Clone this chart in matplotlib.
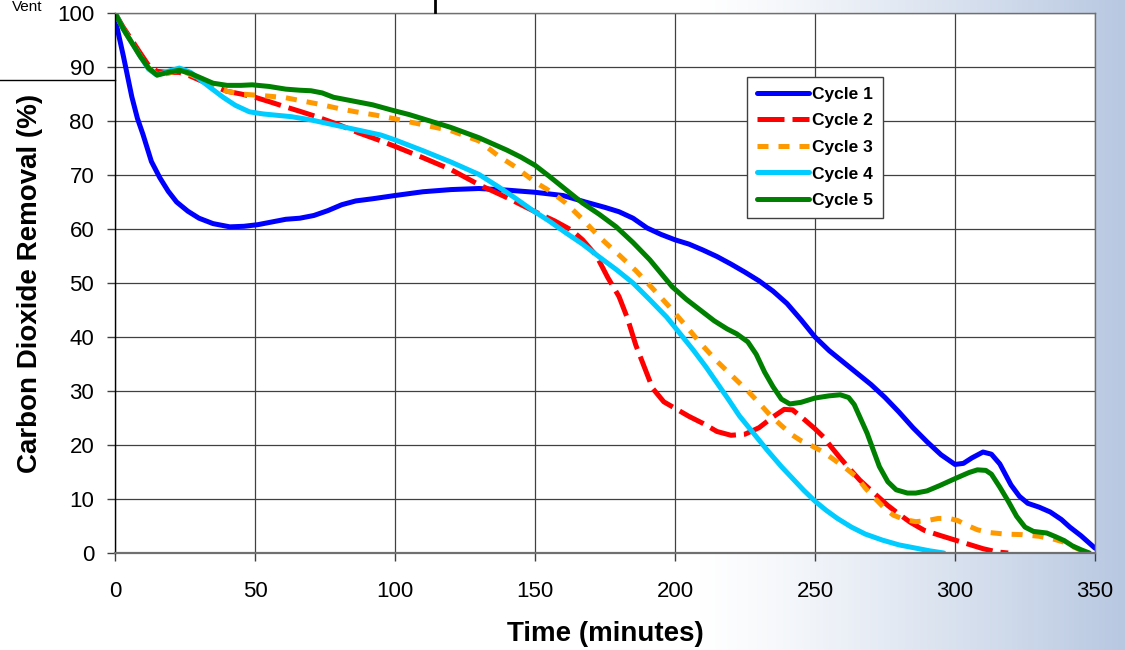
import numpy as np
import matplotlib
matplotlib.use("Agg")
import matplotlib.pyplot as plt
from matplotlib.lines import Line2D

plt.rcParams['font.family'] = ['Liberation Sans', 'DejaVu Sans']

# ---------------- data ----------------
c1_t = [0, 3, 6, 8, 10, 13, 16, 19, 22, 26, 30, 35, 41, 46, 51, 56, 61, 66, 71, 76, 81, 86, 92,
        100, 110, 120, 130, 140, 150, 160, 168, 175, 180, 185, 190, 195, 200, 205, 210, 215, 220,
        225, 230, 235, 240, 245, 250, 255, 260, 265, 270, 275, 280, 285, 290, 295, 300, 303, 306,
        310, 313, 316, 320, 323, 326, 330, 334, 338, 341, 345, 350]
c1_v = [99, 92, 84.5, 80.5, 77.5, 72.5, 69.5, 67, 65, 63.3, 62, 61, 60.4, 60.5, 60.8, 61.3, 61.8,
        62, 62.5, 63.4, 64.5, 65.2, 65.6, 66.2, 66.9, 67.3, 67.5, 67.2, 66.8, 66.2, 65, 64, 63.2,
        62, 60.2, 59, 58, 57.2, 56.1, 54.9, 53.5, 52, 50.4, 48.5, 46.2, 43.2, 40, 37.5, 35.4, 33.3,
        31.2, 28.8, 26.1, 23.2, 20.6, 18.2, 16.4, 16.6, 17.6, 18.7, 18.3, 16.5, 12.6, 10.5, 9.2,
        8.5, 7.6, 6.2, 4.8, 3.2, 0.9]

c2_t = [0, 3, 6, 9, 12, 15, 19, 23, 27, 30, 35, 40, 45, 50, 55, 61, 66, 72, 80, 87, 94, 100, 110,
        120, 130, 140, 150, 157, 163, 167, 172, 176, 180, 183, 186, 189, 192, 196, 200, 205, 210,
        215, 220, 225, 230, 235, 239, 242, 246, 250, 253, 256, 259, 262, 266, 270, 273, 276, 280,
        284, 289, 295, 300, 305, 310, 315, 319]
c2_v = [100, 97.3, 95, 92.6, 90.3, 89.2, 89, 89, 88.3, 87.6, 86.5, 85.5, 85, 84.4, 83.6, 82.6,
        81.8, 80.8, 79.3, 77.8, 76.5, 75.3, 73.2, 71, 68.2, 65.8, 63.2, 61.5, 59.8, 58, 55, 51,
        47.5, 43.5, 38.5, 34.5, 30.5, 28, 26.8, 25.3, 24, 22.5, 21.8, 22, 23.2, 25.2, 26.6, 26.5,
        24.8, 23, 21.5, 19.5, 17.6, 15.8, 13.5, 11.6, 10.2, 8.8, 7.2, 5.7, 4.2, 3.2, 2.4, 1.6, 0.8,
        0.2, 0]

c3_t = [0, 3, 6, 9, 12, 15, 19, 23, 27, 30, 35, 40, 45, 50, 55, 61, 67, 73, 80, 86, 93, 100, 110,
        120, 130, 137, 143, 150, 156, 161, 167, 173, 180, 186, 192, 198, 204, 209, 215, 221, 226,
        230, 234, 238, 242, 245, 249, 253, 257, 261, 265, 268, 272, 275, 278, 282, 286, 290, 294,
        298, 301, 304, 308, 312, 318, 324, 330, 335, 339, 342, 345, 348]
c3_v = [100, 97, 94.5, 92, 89.8, 88.6, 88.8, 89.5, 88.6, 87.9, 86.5, 85.5, 85, 84.8, 84.6, 84.3,
        83.7, 83.1, 82.3, 81.7, 81.1, 80.4, 79.3, 78.2, 76.3, 73.5, 71.5, 68.7, 66.8, 64.8, 61.8,
        58.5, 55.2, 52.3, 49, 45.6, 42, 38.9, 35.5, 32.5, 30, 27.8, 25.5, 23.6, 21.8, 20.8, 19.8,
        18.7, 17.2, 15.7, 14, 12, 9.8, 8.2, 7, 6.2, 5.8, 6, 6.4, 6.4, 6, 5.2, 4.3, 3.8, 3.5, 3.4,
        3.1, 2.6, 2, 1.2, 0.5, 0]

c4_t = [0, 3, 6, 9, 12, 15, 19, 23, 27, 30, 34, 38.6, 43, 48, 53, 57, 63, 70, 78, 87, 95, 100,
        110, 120, 130, 137, 143, 149, 155, 161, 167, 173, 179, 185, 191, 197, 202, 206.5, 211,
        215, 219, 223, 228, 233, 238, 242, 246, 250, 254, 258, 263, 268, 274, 280, 286, 291, 296]
c4_v = [100, 97, 94.5, 92, 89.6, 88.5, 89.2, 89.8, 89, 87.8, 86.2, 84.4, 82.9, 81.7, 81.3, 81.1,
        80.8, 80.2, 79.3, 78.3, 77.4, 76.5, 74.5, 72.4, 70.1, 67.8, 65.7, 63.5, 61.5, 59.3, 57.2,
        54.8, 52.5, 50, 46.9, 43.7, 40.5, 37.6, 34.5, 31.5, 28.5, 25.4, 22.2, 19, 16, 13.8, 11.6,
        9.6, 7.9, 6.4, 4.8, 3.5, 2.4, 1.5, 0.9, 0.4, 0]

c5_t = [0, 3, 6, 9, 12, 15, 19, 23, 27, 31, 35, 40, 45, 49, 55, 61, 66, 70, 74, 78, 85, 92, 99,
        105, 110, 120, 130, 140, 145, 150, 155, 161, 167, 173, 179, 185, 191, 195, 199, 204, 209,
        214, 218.6, 222, 226, 229, 232, 235, 238, 241, 245, 250, 255, 259, 262, 264, 266, 268.6,
        271, 273, 276, 279, 283, 286, 290, 294.6, 298, 301, 305, 308, 311, 313, 316, 319, 322,
        325, 328, 332.8, 336, 339, 342, 345, 348]
c5_v = [100, 97, 94.5, 92, 89.8, 88.5, 89, 89.4, 88.8, 87.9, 87, 86.6, 86.6, 86.7, 86.4, 85.9,
        85.7, 85.6, 85.2, 84.4, 83.7, 83, 82, 81.2, 80.4, 78.8, 76.9, 74.6, 73.3, 71.8, 69.8, 67.3,
        64.8, 62.7, 60.4, 57.5, 54.3, 51.8, 49.3, 47, 45, 43, 41.5, 40.6, 39.1, 36.8, 33.5, 30.8,
        28.5, 27.6, 27.9, 28.7, 29.1, 29.3, 28.8, 27.5, 25.2, 22.2, 18.8, 16, 13.2, 11.7, 11.1,
        11.1, 11.5, 12.5, 13.3, 14, 14.9, 15.4, 15.3, 14.6, 12.2, 9.6, 6.8, 4.8, 4, 3.7, 3, 2.3,
        1.3, 0.6, 0]

series_labels = ["Cycle 1", "Cycle 2", "Cycle 3", "Cycle 4", "Cycle 5"]
x_ticks = [0, 50, 100, 150, 200, 250, 300, 350]
y_ticks = [0, 10, 20, 30, 40, 50, 60, 70, 80, 90, 100]

# ---------------- figure ----------------
W, H = 1125, 650
fig = plt.figure(figsize=(W / 100, H / 100), dpi=100)

# background gradient (slide)
bg = fig.add_axes([0, 0, 1, 1], zorder=-10)
xs = np.linspace(0, 1, W)
g = np.clip((xs * W - 700) / (W - 700), 0, 1) ** 1.2
white = np.array([1.0, 1.0, 1.0])
blue = np.array([184, 200, 225]) / 255.0
row = white[None, :] * (1 - g[:, None]) + blue[None, :] * g[:, None]
img = np.repeat(row[None, :, :], 10, axis=0)
bg.imshow(img, aspect='auto', extent=[0, 1, 0, 1])
bg.set_axis_off()

ax = fig.add_axes([115 / W, 1 - 553 / H, 980 / W, 540 / H], zorder=1)
ax.set_facecolor('white')

lw = 3.6
ax.plot(c1_t, c1_v, color='#0000ff', lw=lw, label=series_labels[0],
        solid_joinstyle='round', solid_capstyle='round')
ax.plot(c2_t, c2_v, color='#ff0000', lw=lw, label=series_labels[1],
        dashes=(5.4, 1.6), dash_capstyle='butt')
ax.plot(c3_t, c3_v, color='#ff9900', lw=lw, label=series_labels[2],
        dashes=(2.2, 2.0), dash_capstyle='butt')
ax.plot(c4_t, c4_v, color='#00ccff', lw=lw, label=series_labels[3],
        solid_joinstyle='round', solid_capstyle='round')
ax.plot(c5_t, c5_v, color='#008000', lw=lw, label=series_labels[4],
        solid_joinstyle='round', solid_capstyle='round')

ax.set_xlim(0, 350)
ax.set_ylim(0, 100)
ax.set_xticks(x_ticks)
ax.set_yticks(y_ticks)
ax.grid(True, color='#404040', lw=0.9)
ax.set_axisbelow(True)

for s in ['top', 'right']:
    ax.spines[s].set_color('#707070')
    ax.spines[s].set_linewidth(1.0)
ax.spines['left'].set_color('black')
ax.spines['left'].set_linewidth(1.0)
ax.spines['bottom'].set_color('#707070')
ax.spines['bottom'].set_linewidth(1.6)

ax.tick_params(axis='y', direction='out', length=6, width=1, color='#404040',
               labelsize=16, pad=9)
ax.tick_params(axis='x', direction='out', length=6, width=1, color='#404040',
               labelsize=16, pad=14)

ax.set_xlabel("Time (minutes)", fontsize=20, fontweight='bold', labelpad=14)
ax.set_ylabel("Carbon Dioxide Removal (%)", fontsize=20, fontweight='bold', labelpad=10)

leg = ax.legend(loc='upper left', bbox_to_anchor=((747 - 115) / 980, (553 - 77) / 540),
                prop={'weight': 'bold', 'size': 12.5}, frameon=True, fancybox=False,
                edgecolor='#404040', framealpha=1, handlelength=3.0,
                handletextpad=0.2, labelspacing=0.66, borderpad=0.55,
                borderaxespad=0)
leg.get_frame().set_linewidth(1.0)

# slide artifacts at the top-left
fig.text(12 / W, 1 - 7 / H, "Vent", fontsize=11, ha='left', va='center')
fig.add_artist(Line2D([0, 115 / W], [1 - 80 / H, 1 - 80 / H], color='black', lw=1))
fig.add_artist(Line2D([435 / W, 435 / W], [1, 1 - 12 / H], color='black', lw=2))

fig.savefig("out.png", dpi=100)
